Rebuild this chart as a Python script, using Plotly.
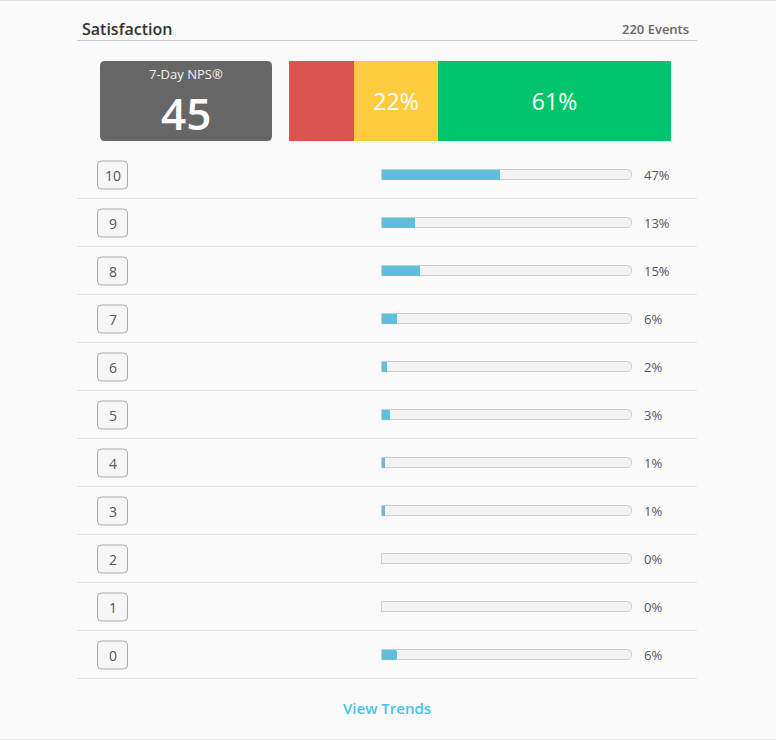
import plotly.graph_objects as go

# data
scores = [10, 9, 8, 7, 6, 5, 4, 3, 2, 1, 0]
score_pct = [47, 13, 15, 6, 2, 3, 1, 1, 0, 0, 6]
nps_groups = ["Detractors", "Passives", "Promoters"]
nps_shares = [17, 22, 61]
nps_colors = ["#d9534f", "#ffcc40", "#00c56d"]
nps_score = 45
event_count = 220

W, H = 776, 740
FONT = "Open Sans"


def px(x):
    return x / W


def py(y):
    return 1 - y / H


def rrect(x0, y0, x1, y1, rx, ry):
    return (f"M {x0+rx},{y0} L {x1-rx},{y0} Q {x1},{y0} {x1},{y0+ry} "
            f"L {x1},{y1-ry} Q {x1},{y1} {x1-rx},{y1} L {x0+rx},{y1} "
            f"Q {x0},{y1} {x0},{y1-ry} L {x0},{y0+ry} Q {x0},{y0} {x0+rx},{y0} Z")


fig = go.Figure()

# stacked NPS bar
base = 0
for name, share, col in zip(nps_groups, nps_shares, nps_colors):
    fig.add_trace(go.Bar(
        x=[share], y=[0], base=[base], orientation="h", width=1,
        marker=dict(color=col, line=dict(width=0)),
        text=[f"{share}%" if share >= 20 else ""], textposition="inside",
        insidetextanchor="middle", constraintext="none",
        textfont=dict(family=FONT, size=23, color="white"),
        name=name, hoverinfo="skip", xaxis="x", yaxis="y"))
    base += share

# progress tracks + fills
row_h = 48.0
bw = 10 / row_h
fig.add_trace(go.Bar(
    x=[100] * len(scores), y=scores, orientation="h", width=bw,
    marker=dict(color="#f3f3f3", line=dict(color="#cccccc", width=1), cornerradius=5),
    hoverinfo="skip", xaxis="x2", yaxis="y2"))
fig.add_trace(go.Bar(
    x=score_pct, y=scores, orientation="h", width=bw - 0.02,
    marker=dict(color="#5bc0de", line=dict(width=0), cornerradius=3),
    hoverinfo="skip", xaxis="x2", yaxis="y2"))

shapes = []
annotations = []

# page borders and header rule
shapes.append(dict(type="line", xref="paper", yref="paper", x0=0, x1=1, y0=py(0.5), y1=py(0.5),
                   line=dict(color="#e4e4e4", width=1)))
shapes.append(dict(type="line", xref="paper", yref="paper", x0=0, x1=1, y0=py(739.5), y1=py(739.5),
                   line=dict(color="#e4e4e4", width=1)))
shapes.append(dict(type="line", xref="paper", yref="paper", x0=px(77), x1=px(697), y0=py(40.5), y1=py(40.5),
                   line=dict(color="#c8c8c8", width=1)))

annotations.append(dict(xref="paper", yref="paper", x=px(80), y=py(29), text="Satisfaction",
                        xanchor="left", yanchor="middle", showarrow=False,
                        font=dict(family=FONT, size=16, color="#333333", weight=600)))
annotations.append(dict(xref="paper", yref="paper", x=px(691), y=py(29), text=f"{event_count} Events",
                        xanchor="right", yanchor="middle", showarrow=False,
                        font=dict(family=FONT, size=13, color="#666666", weight=600)))

# NPS box
shapes.append(dict(type="path", xref="paper", yref="paper",
                   path=rrect(px(100), py(141), px(272), py(61), 5 / W, 5 / H),
                   fillcolor="#666666", line=dict(width=0)))
annotations.append(dict(xref="paper", yref="paper", x=px(186), y=py(74), text="7-Day NPS®",
                        showarrow=False, xanchor="center", yanchor="middle",
                        font=dict(family=FONT, size=13, color="#f2f2f2")))
annotations.append(dict(xref="paper", yref="paper", x=px(186), y=py(113), text=str(nps_score),
                        showarrow=False, xanchor="center", yanchor="middle",
                        font=dict(family=FONT, size=44, color="white", weight=600)))

# rows
for s, p in zip(scores, score_pct):
    shapes.append(dict(type="path", xref="paper", yref="y2",
                       path=rrect(px(97.5), s - 14 / row_h, px(127.5), s + 14 / row_h, 4 / W, 4 / row_h),
                       fillcolor="#f7f7f7", line=dict(color="#aaaaaa", width=1)))
    annotations.append(dict(xref="paper", yref="y2", x=px(112.5), y=s, text=str(s),
                            showarrow=False, xanchor="center", yanchor="middle",
                            font=dict(family=FONT, size=14, color="#555555")))
    annotations.append(dict(xref="paper", yref="y2", x=px(642), y=s, text=f"{p}%",
                            showarrow=False, xanchor="left", yanchor="middle",
                            font=dict(family=FONT, size=13, color="#555555")))
    shapes.append(dict(type="line", xref="paper", yref="y2", x0=px(77), x1=px(697),
                       y0=s - 0.5 + 0.5 / row_h, y1=s - 0.5 + 0.5 / row_h,
                       line=dict(color="#e3e3e3", width=1)))

annotations.append(dict(xref="paper", yref="paper", x=px(387), y=py(708), text="View Trends",
                        showarrow=False, xanchor="center", yanchor="middle",
                        font=dict(family=FONT, size=15, color="#45c3ee", weight=600)))

hidden = dict(visible=False, fixedrange=True)
fig.update_layout(
    width=W, height=H, margin=dict(l=0, r=0, t=0, b=0),
    paper_bgcolor="#fafafa", plot_bgcolor="rgba(0,0,0,0)",
    showlegend=False, barmode="overlay", bargap=0,
    xaxis=dict(domain=[px(289), px(671)], range=[0, 100], **hidden),
    yaxis=dict(domain=[py(141), py(61)], range=[-0.5, 0.5], **hidden),
    xaxis2=dict(domain=[px(381), px(633)], range=[-0.4, 100.4], anchor="y2", **hidden),
    yaxis2=dict(domain=[py(679), py(151)], range=[-0.5, 10.5], anchor="x2", **hidden),
    shapes=shapes, annotations=annotations,
)

fig.write_html("out.html", config={"displayModeBar": False},
               post_script="document.body.style.margin='0';")
